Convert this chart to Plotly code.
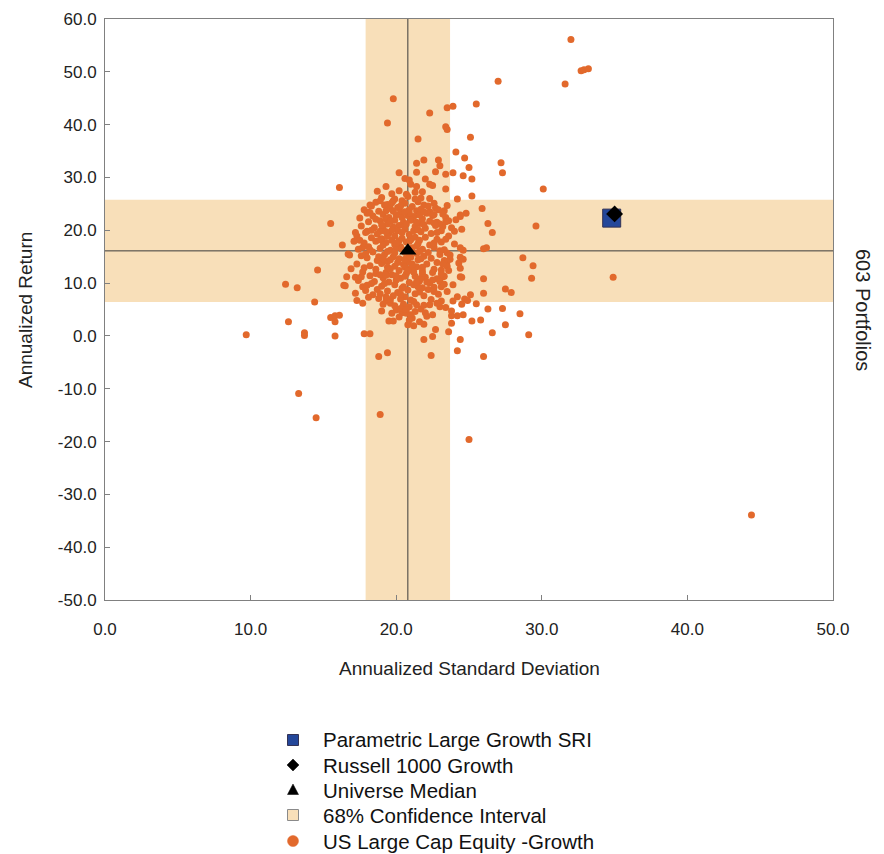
import plotly.graph_objects as go

# ---------------- data ----------------
manager_sd = [34.8]
manager_ret = [22.3]
bench_sd = [35.0]
bench_ret = [23.1]
median_sd = [20.8]
median_ret = [16.1]
ci_sd = [17.9, 23.7]
ci_ret = [6.4, 25.8]

sd_upper = [32.0, 32.7, 32.9, 33.2, 31.6, 27.0, 19.8, 19.4, 22.3, 23.5, 23.9, 25.5, 23.4, 23.5, 25.1, 21.5,
            24.1, 24.7, 27.2, 27.3, 25.0, 24.6, 25.2, 23.9, 23.4, 22.9, 23.0, 21.9, 21.4, 22.7, 21.4, 20.2,
            20.6, 20.9, 16.1, 18.7, 19.3, 30.1, 23.4, 22.3, 22.0, 22.5, 22.3, 24.2, 25.2, 19.7, 20.2, 20.8,
            21.7, 21.0, 21.4, 21.3, 21.8, 19.8, 20.4]
ret_upper = [56.1, 50.2, 50.4, 50.6, 47.7, 48.2, 44.9, 40.3, 42.2, 43.2, 43.5, 43.9, 39.6, 39.1, 37.6, 37.3,
             34.8, 33.7, 32.8, 30.9, 31.9, 30.3, 29.7, 30.9, 30.6, 33.3, 32.2, 33.3, 32.7, 31.1, 31.0, 30.9,
             29.8, 29.5, 28.1, 27.4, 28.3, 27.8, 27.8, 28.7, 29.7, 28.5, 26.0, 25.9, 26.5, 26.9, 27.5, 26.4,
             26.1, 28.7, 28.3, 27.2, 27.3, 25.6, 25.6]

sd_fringe = [25.9, 26.3, 26.6, 29.6, 24.8, 24.4, 24.5, 24.0, 26.2, 26.0, 28.7, 29.4, 29.3, 27.5, 27.9, 26.0,
             26.0, 25.1, 24.4, 24.3, 24.4, 24.6, 24.4, 23.7, 23.7, 23.1, 23.2, 34.9, 15.5, 14.6, 12.4, 13.2,
             16.3, 16.6, 16.4, 16.9, 16.8, 17.1, 17.2, 18.0, 18.0, 18.2, 18.1, 19.2, 23.3, 23.2, 24.4, 24.1,
             23.6, 23.2, 22.8, 22.3, 17.7, 16.7, 17.7, 17.2, 17.2, 24.6, 24.4, 24.5, 23.9, 24.7, 24.2, 23.5,
             23.1, 23.3, 23.5, 23.5]
ret_fringe = [24.1, 21.3, 19.6, 20.8, 23.2, 22.6, 20.2, 19.8, 16.7, 16.5, 14.8, 13.3, 10.9, 8.9, 8.2, 10.8,
              8.1, 7.8, 11.2, 13.8, 14.9, 16.2, 16.7, 15.3, 14.5, 12.5, 11.2, 11.1, 21.3, 12.5, 9.8, 9.1,
              17.2, 11.2, 9.6, 12.7, 15.3, 17.9, 19.6, 19.8, 23.2, 24.8, 23.4, 24.8, 23.7, 23.1, 22.9, 22.0,
              21.8, 20.7, 21.5, 23.5, 16.8, 15.5, 9.3, 8.1, 11.1, 14.5, 12.8, 11.1, 9.7, 7.0, 7.4, 8.4,
              9.3, 11.3, 14.1, 15.7]

sd_lower = [14.4, 12.6, 13.7, 13.7, 15.5, 15.8, 16.1, 15.8, 15.8, 16.5, 17.8, 18.2, 19.0, 19.5, 19.8, 21.9,
            22.5, 22.7, 23.6, 24.2, 24.4, 26.0, 26.6, 27.5, 29.1, 28.5, 27.3, 26.3, 25.8, 25.2, 25.5, 24.9,
            24.5, 24.6, 24.2, 23.8, 23.8, 23.8, 9.7, 18.8, 19.4, 22.4, 13.3, 14.5, 18.9, 25.0, 44.4,
            20.0, 20.4, 20.7, 20.8, 21.2, 21.1, 21.6, 21.9, 22.1, 22.5, 22.3, 21.7, 21.4, 20.9, 20.5, 21.2,
            20.3, 21.0, 20.9, 23.0, 23.1, 23.4, 23.9, 19.3, 19.1, 19.6, 17.7, 17.3]
ret_lower = [6.4, 2.7, 0.1, 0.6, 3.5, 3.8, 3.9, 2.7, 0.0, 9.5, 0.4, 0.4, 4.7, 2.8, 2.8, -0.7,
             -0.1, 1.2, 0.8, -2.8, -0.7, -3.9, 0.6, 2.1, 0.2, 4.2, 5.2, 5.1, 3.0, 2.8, 6.1, 6.7,
             6.0, 4.0, 3.8, 3.8, 2.4, 4.7, 0.2, -3.9, -3.2, -3.7, -10.9, -15.5, -14.9, -19.6, -33.9,
             4.9, 4.4, 4.3, 2.1, 1.9, 3.4, 2.7, 2.2, 3.7, 4.0, 5.9, 5.1, 5.9, 5.5, 6.0, 6.5,
             5.2, 4.0, 3.0, 5.5, 6.6, 5.4, 6.6, 6.6, 6.0, 6.2, 6.2, 6.7]

# dense core (read approximately from the crowded centre of the cloud)
sd_core = [19.0, 19.9, 20.7, 21.5, 22.6, 18.6,
           18.3, 19.4, 20.1, 20.6, 21.1, 21.9, 22.7, 23.5, 20.9,
           17.8, 18.8, 19.6, 20.3, 21.4, 22.1, 22.9, 19.1, 20.8,
           18.4, 19.5, 20.0, 21.2, 21.8, 22.5, 23.4, 17.5, 19.9,
           18.1, 18.9, 20.5, 21.0, 21.6, 22.3, 23.0, 19.4, 20.2,
           17.6, 18.5, 19.1, 19.8, 20.6, 21.3, 22.0, 22.7, 23.8, 18.9,
           17.9, 18.7, 19.5, 20.1, 20.9, 21.7, 22.4, 23.1, 19.9, 21.3,
           17.3, 18.3, 19.0, 20.4, 21.0, 22.0, 22.8, 23.6, 18.6, 20.7,
           17.8, 19.3, 19.9, 21.5, 22.3, 23.1, 24.0, 18.1, 20.3, 21.1,
           17.4, 18.9, 19.6, 20.0, 21.8, 22.6, 23.3, 18.4, 20.6, 21.4, 19.2,
           17.6, 18.0, 19.8, 20.2, 21.0, 21.9, 22.4, 23.0, 18.7, 19.4, 20.8, 22.8,
           17.3, 18.2, 19.0, 19.9, 20.5, 21.4, 22.1, 23.5, 18.6, 20.2, 21.0, 21.8,
           17.7, 19.3, 19.7, 20.7, 22.5, 23.6, 18.2, 19.1, 20.3, 21.3, 22.0, 22.8,
           17.4, 18.5, 19.5, 20.0, 20.9, 21.6, 22.3, 23.0, 18.0, 19.0, 20.5, 21.2, 22.6,
           17.9, 18.7, 19.4, 20.1, 20.8, 21.6, 22.2, 18.4, 19.8, 20.6, 21.9, 22.9,
           18.8, 19.6, 20.3, 21.0, 22.4, 18.1,
           19.3, 20.4, 21.6, 20.6, 19.7, 21.2, 20.2, 19.4, 21.6, 20.8, 19.9, 21.5, 20.6, 19.6, 21.2,
           20.0, 21.7, 19.2, 20.4, 21.8, 20.9, 19.8, 21.9, 19.0, 22.2, 18.8, 22.5, 18.6, 20.3, 21.7,
           18.9, 19.7, 21.3, 22.2, 18.2, 19.3, 20.6, 21.9, 22.6,
           18.6, 19.6, 20.7, 21.4, 22.6, 23.4, 18.3, 19.3, 20.4, 21.5, 22.8,
           17.5, 18.9, 19.7, 20.9, 22.6, 23.4, 18.2, 19.4, 20.4, 21.6, 23.0,
           17.9, 19.1, 20.6, 21.7, 23.3, 17.8, 19.4, 21.8, 22.6, 23.2,
           17.6, 18.9, 20.6, 21.8, 23.1, 18.3, 19.9, 21.5, 22.1, 23.3,
           18.9, 20.3, 21.3, 22.6, 19.3, 19.9, 21.9, 22.8, 20.7, 21.3, 19.7, 22.0, 20.2,
           20.0, 21.4, 19.1, 20.9, 19.6, 21.1, 20.1, 20.8, 19.3, 21.4]
ret_core = [26.2, 25.9, 26.8, 25.4, 25.1, 25.3,
            24.6, 24.9, 24.3, 25.1, 24.5, 24.8, 24.2, 24.7, 23.9,
            23.9, 23.6, 24.1, 23.4, 23.7, 23.2, 23.9, 23.0, 22.8,
            22.7, 22.4, 22.9, 22.6, 22.2, 22.8, 22.4, 22.3, 21.9,
            21.6, 21.8, 21.5, 21.9, 21.3, 21.7, 21.2, 21.2, 20.9,
            20.8, 20.5, 20.3, 20.6, 20.2, 20.7, 20.4, 20.9, 20.5, 19.8,
            19.6, 19.3, 19.5, 19.9, 19.2, 19.7, 19.4, 19.9, 18.9, 18.7,
            18.9, 18.6, 18.4, 18.5, 18.2, 18.7, 18.3, 18.9, 17.9, 17.8,
            17.6, 17.7, 17.3, 17.5, 17.2, 17.8, 17.4, 16.9, 16.9, 16.7,
            16.4, 16.6, 16.2, 16.7, 16.4, 16.8, 16.3, 15.9, 15.8, 15.6, 15.4,
            15.2, 14.8, 15.0, 14.6, 14.9, 15.1, 14.7, 15.4, 14.3, 14.1, 14.0, 13.9,
            13.6, 13.3, 13.7, 13.2, 13.5, 13.1, 13.6, 13.2, 12.6, 12.4, 12.8, 12.3,
            12.1, 12.0, 11.6, 11.8, 12.0, 12.4, 11.4, 11.0, 10.9, 11.3, 11.1, 10.8,
            10.5, 10.3, 10.2, 10.6, 10.1, 10.4, 10.0, 10.3, 9.6, 9.4, 9.3, 9.7, 9.2,
            8.6, 8.8, 8.5, 8.2, 8.7, 8.3, 8.8, 7.8, 7.6, 7.4, 7.6, 7.9,
            7.1, 6.9, 7.0, 6.8, 6.9, 7.3,
            22.1, 22.4, 22.9, 20.8, 20.0, 19.9, 18.0, 18.9, 18.1, 16.2, 15.7, 14.4, 13.0, 12.7, 12.1,
            11.4, 10.9, 9.9, 9.0, 9.1, 23.2, 23.6, 21.1, 21.0, 15.8, 15.0, 10.6, 11.8, 24.6, 24.0,
            25.6, 25.2, 25.9, 24.6, 23.3, 23.7, 23.5, 23.5, 23.0,
            22.1, 21.7, 21.2, 21.5, 21.4, 21.6, 20.0, 19.7, 19.6, 20.1, 19.6,
            18.1, 18.2, 18.1, 17.9, 17.6, 18.3, 16.3, 16.0, 16.4, 16.0, 16.1,
            15.5, 14.6, 14.5, 14.6, 14.3, 12.9, 13.0, 13.0, 12.6, 13.6,
            11.2, 11.6, 11.3, 11.8, 11.7, 9.9, 9.7, 9.3, 10.2, 9.8,
            8.0, 7.9, 8.0, 8.4, 7.4, 5.7, 5.8, 6.2, 5.0, 4.6, 4.3, 4.4, 3.6,
            17.6, 17.0, 17.2, 15.2, 14.4, 13.6, 13.9, 12.3, 11.5, 10.2]

x_ticks = [0, 10, 20, 30, 40, 50]
y_ticks = [60, 50, 40, 30, 20, 10, 0, -10, -20, -30, -40, -50]

legend_names = ["Parametric Large Growth SRI", "Russell 1000 Growth", "Universe Median",
                "68% Confidence Interval", "US Large Cap Equity -Growth"]

# ---------------- style ----------------
ORANGE = "#E2692C"
BAND = "#F8DFB9"
BLUE = "#24479A"
FONT_AX = "Liberation Sans Narrow, Arial Narrow, Liberation Sans, Arial, sans-serif"
FONT_LG = "Liberation Sans, Arial, sans-serif"

W, H = 884, 854
L, R, T, B = 105, 51, 19, 254
pw, ph = W - L - R, H - T - B


def px(xp):
    return (xp - L) / pw


def py(yp):
    return (H - B - yp) / ph


sd_all = sd_upper + sd_fringe + sd_lower + sd_core
ret_all = ret_upper + ret_fringe + ret_lower + ret_core

fig = go.Figure()

# bands
fig.add_shape(type="rect", xref="x", yref="paper", x0=ci_sd[0], x1=ci_sd[1], y0=0, y1=1,
              fillcolor=BAND, line_width=0, layer="below")
fig.add_shape(type="rect", xref="paper", yref="y", x0=0, x1=1, y0=ci_ret[0], y1=ci_ret[1],
              fillcolor=BAND, line_width=0, layer="below")
# median lines
fig.add_shape(type="line", xref="x", yref="paper", x0=median_sd[0], x1=median_sd[0], y0=0, y1=1,
              line=dict(color="#3a3a3a", width=1), layer="below")
fig.add_shape(type="line", xref="paper", yref="y", x0=0, x1=1, y0=median_ret[0], y1=median_ret[0],
              line=dict(color="#3a3a3a", width=1), layer="below")

fig.add_trace(go.Scatter(x=sd_all, y=ret_all, mode="markers", showlegend=False,
                         marker=dict(color=ORANGE, size=7, line=dict(width=0))))
fig.add_trace(go.Scatter(x=median_sd, y=median_ret, mode="markers", showlegend=False,
                         marker=dict(symbol="triangle-up", color="black", size=15, line=dict(width=0))))
fig.add_trace(go.Scatter(x=manager_sd, y=manager_ret, mode="markers", showlegend=False,
                         marker=dict(symbol="square", color=BLUE, size=18,
                                     line=dict(color="#333355", width=1))))
fig.add_trace(go.Scatter(x=bench_sd, y=bench_ret, mode="markers", showlegend=False,
                         marker=dict(symbol="diamond", color="black", size=13, line=dict(width=0))))

# ---------------- manual legend ----------------
sym_x = 293
txt_x = 321
row_y = [740, 765, 790, 815, 841]
s = 5.5  # half size of legend symbols, px


def ppath(points):
    parts = []
    for i, (a, b) in enumerate(points):
        parts.append(("M" if i == 0 else "L") + f"{px(a):.5f},{py(b):.5f}")
    return " ".join(parts) + " Z"


# square (manager)
y0 = row_y[0]
fig.add_shape(type="rect", xref="paper", yref="paper", x0=px(sym_x - s), x1=px(sym_x + s),
              y0=py(y0 + s), y1=py(y0 - s), fillcolor=BLUE, line=dict(color="#333355", width=1))
# diamond (benchmark)
y0 = row_y[1]
fig.add_shape(type="path", xref="paper", yref="paper",
              path=ppath([(sym_x, y0 - 6), (sym_x + 6, y0), (sym_x, y0 + 6), (sym_x - 6, y0)]),
              fillcolor="black", line=dict(color="black", width=0.5))
# triangle (median)
y0 = row_y[2]
fig.add_shape(type="path", xref="paper", yref="paper",
              path=ppath([(sym_x, y0 - 6), (sym_x + 5.5, y0 + 4.5), (sym_x - 5.5, y0 + 4.5)]),
              fillcolor="black", line=dict(color="black", width=0.5))
# CI square
y0 = row_y[3]
fig.add_shape(type="rect", xref="paper", yref="paper", x0=px(sym_x - s), x1=px(sym_x + s),
              y0=py(y0 + s), y1=py(y0 - s), fillcolor=BAND, line=dict(color="#8a8a8a", width=1))
# circle (universe)
y0 = row_y[4]
fig.add_shape(type="circle", xref="paper", yref="paper", x0=px(sym_x - s), x1=px(sym_x + s),
              y0=py(y0 + s), y1=py(y0 - s), fillcolor=ORANGE, line=dict(color=ORANGE, width=0.5))

for name, yy in zip(legend_names, row_y):
    fig.add_annotation(text=name, xref="paper", yref="paper", x=px(txt_x), y=py(yy),
                       xanchor="left", yanchor="middle", showarrow=False,
                       font=dict(family=FONT_LG, size=20.5, color="#111111"))

axis_common = dict(showgrid=False, zeroline=False, showline=True, linecolor="#808080", linewidth=1,
                   mirror=True, ticks="inside", ticklen=5, tickcolor="#808080",
                   tickfont=dict(family=FONT_AX, size=17, color="#222222"))
fig.update_xaxes(range=[0, 50], tickvals=x_ticks, ticktext=[f"{v:.1f}" for v in x_ticks],
                 ticklabelstandoff=14, **axis_common)
fig.update_yaxes(range=[-50, 60], tickvals=y_ticks, ticktext=[f"{v:.1f}" for v in y_ticks],
                 ticklabelstandoff=4, **axis_common)

fig.add_annotation(text="Annualized Standard Deviation", xref="paper", yref="paper",
                   x=px(469), y=py(668), showarrow=False, xanchor="center", yanchor="middle",
                   font=dict(family=FONT_AX, size=19, color="#222222"))
fig.add_annotation(text="Annualized Return", xref="paper", yref="paper",
                   x=px(25), y=py(310), showarrow=False, textangle=-90, xanchor="center", yanchor="middle",
                   font=dict(family=FONT_AX, size=19, color="#222222"))
fig.add_annotation(text="603 Portfolios", xref="paper", yref="paper",
                   x=px(863), y=py(310), showarrow=False, textangle=90, xanchor="center", yanchor="middle",
                   font=dict(family=FONT_AX, size=20, color="#222222"))

fig.update_layout(
    width=W, height=H, margin=dict(l=L, r=R, t=T, b=B, autoexpand=False),
    paper_bgcolor="white", plot_bgcolor="white", showlegend=False,
)

fig.write_html("out.html")
